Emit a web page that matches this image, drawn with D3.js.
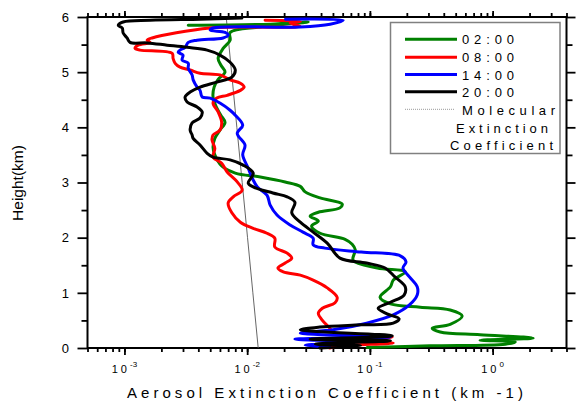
<!DOCTYPE html>
<html><head><meta charset="utf-8">
<script src="https://cdn.jsdelivr.net/npm/d3@7"></script>
<style>body{margin:0;background:#fff} svg{display:block;font-family:"Liberation Sans",Arial,sans-serif}</style>
</head><body><svg id="c" width="576" height="402"></svg>
<script>
const seriesNames = ["02:00","08:00","14:00","20:00"];
const seriesColors = ["#008000","#ff0000","#0000ff","#000000"];

const h0200 = [5.85,5.87,5.91,5.82,5.72,5.58,5.43,5.25,5.13,5.00,4.87,4.73,4.55,4.37,4.22,4.09,3.95,3.80,3.64,3.50,3.30,3.17,3.10,3.01,2.93,2.83,2.72,2.61,2.54,2.46,2.39,2.30,2.21,2.08,1.97,1.88,1.78,1.59,1.45,1.38,1.23,1.11,0.92,0.80,0.74,0.69,0.58,0.43,0.36,0.29,0.24,0.18,0.14,0.11,0.07,0.04,0.01];
const v0200 = [0.00331,0.0154,0.0314,0.0128,0.00726,0.00726,0.00637,0.0058,0.0061,0.0066,0.0058,0.00538,0.00527,0.0056,0.0061,0.0066,0.0060,0.00545,0.00527,0.00545,0.0062,0.0080,0.0128,0.0204,0.0271,0.0297,0.0393,0.0595,0.057,0.038,0.0326,0.038,0.0335,0.0393,0.0628,0.0717,0.076,0.073,0.115,0.194,0.155,0.147,0.121,0.147,0.257,0.451,0.565,0.451,0.322,0.374,0.79,2.14,0.79,1.53,1.27,0.31,0.095];

const h0800 = [5.94,5.92,5.89,5.83,5.80,5.62,5.58,5.54,5.49,5.43,5.40,5.34,5.25,5.16,5.09,5.04,4.98,4.95,4.86,4.80,4.73,4.67,4.58,4.53,4.44,4.28,4.09,3.95,3.86,3.77,3.62,3.46,3.35,3.19,3.01,2.86,2.74,2.63,2.45,2.28,2.17,2.08,1.99,1.83,1.72,1.63,1.54,1.45,1.38,1.32,1.23,1.09,0.92,0.82,0.72,0.63,0.51,0.38,0.27,0.20,0.14,0.09,0.04,0.0];
const v0800 = [0.014,0.0271,0.0224,0.0271,0.005,0.00168,0.00153,0.00162,0.00129,0.00122,0.00134,0.00245,0.00249,0.00259,0.00284,0.00343,0.00413,0.0060,0.00726,0.0088,0.00945,0.0088,0.00687,0.00565,0.00527,0.0058,0.0062,0.0060,0.00527,0.00517,0.00545,0.00527,0.0062,0.00687,0.0083,0.0091,0.0077,0.0070,0.0075,0.0088,0.0112,0.0145,0.0168,0.0168,0.0212,0.0231,0.0204,0.0178,0.0197,0.0271,0.0345,0.0449,0.0541,0.052,0.041,0.038,0.0407,0.0462,0.052,0.152,0.076,0.155,0.057,0.047];

const h1400 = [5.96,5.94,5.87,5.82,5.80,5.76,5.72,5.67,5.62,5.58,5.54,5.45,5.40,5.36,5.31,5.22,5.16,5.07,4.95,4.86,4.73,4.67,4.55,4.53,4.44,4.31,4.22,4.04,3.89,3.68,3.50,3.26,3.08,2.92,2.77,2.59,2.41,2.23,2.10,1.99,1.87,1.81,1.74,1.67,1.56,1.45,1.29,1.11,0.96,0.78,0.60,0.45,0.33,0.27,0.20,0.16,0.11,0.05,0.02];
const v1400 = [0.0205,0.0606,0.0474,0.0271,0.00527,0.005,0.0066,0.0070,0.00637,0.0039,0.00331,0.00312,0.00284,0.00274,0.0030,0.00295,0.00331,0.00331,0.00356,0.00363,0.00391,0.00413,0.0043,0.005,0.0060,0.00726,0.0080,0.0092,0.0083,0.0096,0.0092,0.0102,0.0110,0.0121,0.0145,0.0154,0.0175,0.0224,0.0285,0.0345,0.0345,0.043,0.085,0.177,0.197,0.186,0.21,0.243,0.243,0.21,0.155,0.094,0.050,0.0271,0.147,0.0245,0.069,0.0297,0.047];

const h2000 = [5.98,5.96,5.94,5.91,5.85,5.80,5.71,5.62,5.54,5.53,5.49,5.45,5.40,5.31,5.18,5.04,4.91,4.82,4.73,4.64,4.55,4.46,4.37,4.28,4.17,4.08,3.95,3.86,3.80,3.68,3.53,3.46,3.41,3.32,3.17,2.99,2.92,2.81,2.74,2.64,2.45,2.28,2.10,1.90,1.63,1.54,1.45,1.29,1.11,0.96,0.83,0.72,0.62,0.53,0.45,0.42,0.38,0.33,0.22,0.16,0.13,0.07,0.04,0.0];
const v2000 = [0.00905,0.00413,0.00162,0.000976,0.00089,0.00096,0.000976,0.00105,0.00111,0.00153,0.00223,0.00324,0.00472,0.0060,0.00726,0.0080,0.0075,0.00565,0.00413,0.00343,0.00312,0.00324,0.00391,0.0043,0.00413,0.00356,0.00343,0.00356,0.00363,0.00413,0.00472,0.00527,0.00726,0.0092,0.0112,0.0102,0.0112,0.0162,0.0212,0.0245,0.0231,0.0271,0.0345,0.0449,0.057,0.094,0.133,0.16,0.194,0.19,0.147,0.1167,0.138,0.173,0.155,0.084,0.039,0.0271,0.152,0.0326,0.147,0.036,0.084,0.039];

const molH = [0,1,2,3,4,5,6];
const molV = [0.0123,0.01113,0.01007,0.00911,0.00824,0.00746,0.00675];

const yTicks = [0,1,2,3,4,5,6];
const xTickExp = [-3,-2,-1,0];

const svg = d3.select("#c");
const x = d3.scaleLog().domain([5e-4,4]).range([87.5,566.5]);
const y = d3.scaleLinear().domain([0,6]).range([348,17]);

const minorX = [];
for (let e=-4;e<=0;e++) for (let k=1;k<=9;k++){const v=k*Math.pow(10,e); if(v>=5e-4*0.999 && v<=4.001) minorX.push(v);}
const majorX = xTickExp.map(e=>Math.pow(10,e));
const minorY = d3.range(0.5,6,1);

function styleAxis(g){ g.select(".domain").remove(); g.selectAll("line").attr("stroke","#000").attr("stroke-width",1.8); g.selectAll("text").remove(); }

svg.append("g").attr("transform","translate(0,348)").call(d3.axisBottom(x).tickValues(minorX).tickSize(4).tickFormat("")).call(styleAxis);
svg.append("g").attr("transform","translate(0,348)").call(d3.axisBottom(x).tickValues(majorX).tickSize(7).tickFormat("")).call(styleAxis);
svg.append("g").attr("transform","translate(0,17)").call(d3.axisTop(x).tickValues(minorX).tickSize(4).tickFormat("")).call(styleAxis);
svg.append("g").attr("transform","translate(0,17)").call(d3.axisTop(x).tickValues(majorX).tickSize(6).tickFormat("")).call(styleAxis);
svg.append("g").attr("transform","translate(87.5,0)").call(d3.axisLeft(y).tickValues(yTicks).tickSize(10).tickFormat("")).call(styleAxis);
svg.append("g").attr("transform","translate(87.5,0)").call(d3.axisLeft(y).tickValues(minorY).tickSize(6).tickFormat("")).call(styleAxis);
svg.append("g").attr("transform","translate(566.5,0)").call(d3.axisRight(y).tickValues(yTicks).tickSize(9).tickFormat("")).call(styleAxis);
svg.append("g").attr("transform","translate(566.5,0)").call(d3.axisRight(y).tickValues(minorY).tickSize(6).tickFormat("")).call(styleAxis);

// frame
svg.append("rect").attr("x",87.5).attr("y",17).attr("width",479).attr("height",331)
  .attr("fill","none").attr("stroke","#000").attr("stroke-width",2);

// y labels
svg.selectAll(".yl").data(yTicks).enter().append("text")
  .attr("x",69).attr("y",d=>y(d)).attr("dy","0.36em").attr("text-anchor","end")
  .attr("font-size",13).text(d=>d);

// x labels
xTickExp.forEach(e=>{
  const t = svg.append("text").attr("x",x(Math.pow(10,e))).attr("y",373).attr("text-anchor","middle").attr("font-size",11);
  t.append("tspan").attr("letter-spacing","3px").text("10");
  t.append("tspan").attr("font-size",8).attr("dy",-6).text(e===0?"0":String(e));
});

// axis titles
svg.append("text").attr("x",325).attr("y",398).attr("text-anchor","middle").attr("font-size",15)
  .attr("textLength",396).attr("lengthAdjust","spacing").text("Aerosol Extinction Coefficient (km -1)");
svg.append("text").attr("transform","translate(23,183) rotate(-90)").attr("text-anchor","middle")
  .attr("font-size",15.5).text("Height(km)");

// data lines
const line = d3.line().x(d=>x(d[1])).y(d=>y(d[0])).curve(d3.curveCatmullRom.alpha(0.5));
const molLine = d3.line().x(d=>x(d[1])).y(d=>y(d[0]));
svg.append("path").datum(d3.zip(molH,molV)).attr("d",molLine).attr("fill","none").attr("stroke","#555").attr("stroke-width",0.9);

const allH = [h0200,h0800,h1400,h2000];
const allV = [v0200,v0800,v1400,v2000];
allH.forEach((hs,i)=>{
  svg.append("path").datum(d3.zip(hs,allV[i])).attr("d",line)
    .attr("fill","none").attr("stroke",seriesColors[i]).attr("stroke-width",3)
    .attr("stroke-linejoin","round").attr("stroke-linecap","round");
});

// legend
const lg = svg.append("g");
lg.append("rect").attr("x",390.5).attr("y",22.5).attr("width",169.5).attr("height",131)
  .attr("fill","#fff").attr("stroke","#808080").attr("stroke-width",1.5);
const legY = [39.3,57.3,74.5,91.8];
seriesNames.forEach((n,i)=>{
  lg.append("line").attr("x1",405).attr("x2",457).attr("y1",legY[i]).attr("y2",legY[i])
    .attr("stroke",seriesColors[i]).attr("stroke-width",3);
  lg.append("text").attr("x",462).attr("y",legY[i]+5).attr("font-size",13)
    .attr("textLength",52).attr("lengthAdjust","spacing").text(n);
});
lg.append("line").attr("x1",405).attr("x2",455).attr("y1",109.3).attr("y2",109.3)
  .attr("stroke","#999").attr("stroke-width",1).attr("stroke-dasharray","1,1");
lg.append("text").attr("x",462).attr("y",115).attr("font-size",13).attr("textLength",93).attr("lengthAdjust","spacing").text("Molecular");
lg.append("text").attr("x",456).attr("y",132.5).attr("font-size",13).attr("textLength",92).attr("lengthAdjust","spacing").text("Extinction");
lg.append("text").attr("x",450).attr("y",150).attr("font-size",13).attr("textLength",103).attr("lengthAdjust","spacing").text("Coefficient");
</script></body></html>
